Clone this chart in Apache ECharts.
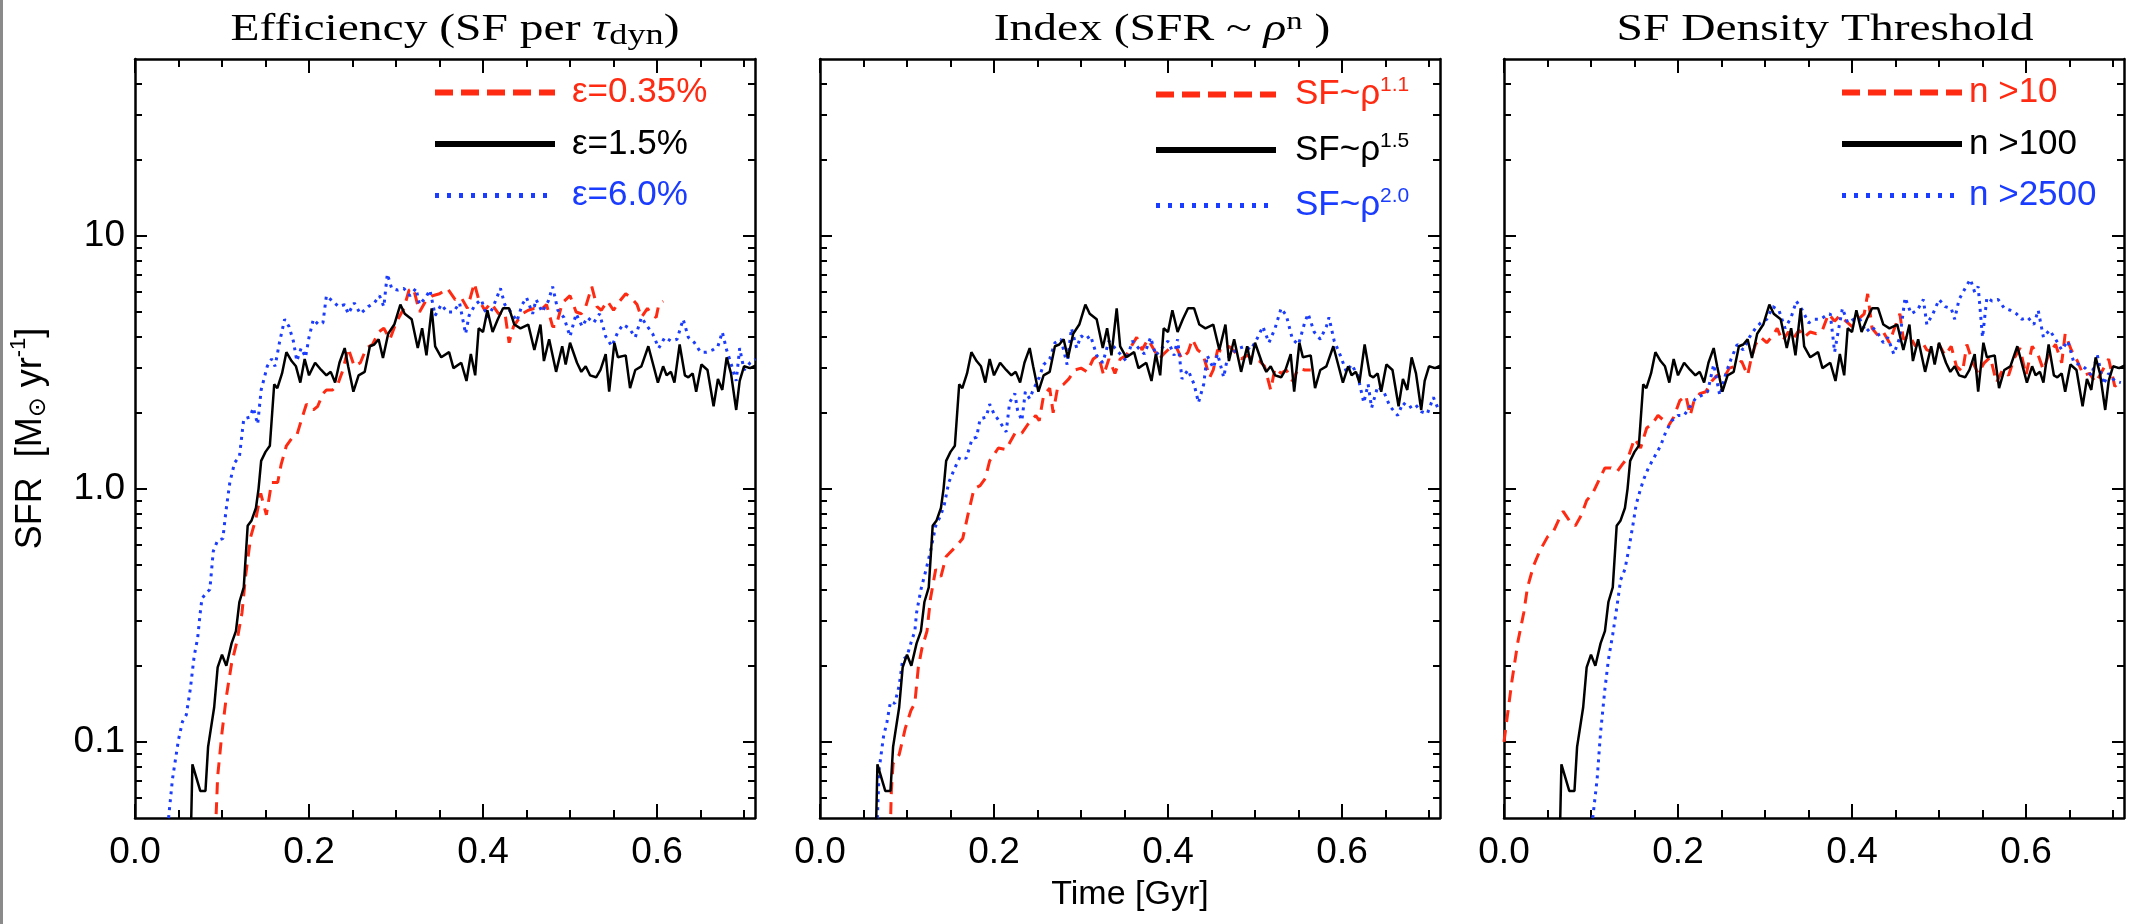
<!doctype html>
<html lang="en">
<head>
  <meta charset="UTF-8">
  <title>SFR vs time</title>
  <style>html, body {margin: 0; padding: 0; background: #fff;}</style>
</head>
<body>
<div id="main" style="width: 2129px;height: 924px"></div>
<script src="https://cdn.jsdelivr.net/npm/echarts@6/dist/echarts.min.js"></script>
<script>
    // fiducial run (eps=1.5%, n=1.5, n>100) - identical in all three panels
    const fiducial = [[0.0632,0.03],[0.066,0.0815],[0.075,0.064],[0.081,0.064],[0.084,0.0955],[0.091,0.137],[0.095,0.197],[0.1,0.221],[0.105,0.2],[0.111,0.245],[0.116,0.274],[0.12,0.357],[0.125,0.408],[0.1295,0.714],[0.134,0.75],[0.139,0.84],[0.142,1.0],[0.145,1.29],[0.15,1.4],[0.155,1.48],[0.16,2.59],[0.1636,2.5],[0.169,2.86],[0.174,3.47],[0.18,3.2],[0.185,3.05],[0.19,2.63],[0.195,3.26],[0.2,2.81],[0.207,3.15],[0.214,2.95],[0.22,2.81],[0.225,2.9],[0.23,2.63],[0.235,3.15],[0.241,3.6],[0.245,3.05],[0.251,2.42],[0.257,2.81],[0.264,2.9],[0.27,3.66],[0.275,3.72],[0.28,3.9],[0.285,3.29],[0.291,4.1],[0.298,4.46],[0.305,5.35],[0.31,4.92],[0.318,4.68],[0.325,3.6],[0.33,4.31],[0.335,3.37],[0.341,5.17],[0.345,3.66],[0.352,3.31],[0.361,3.47],[0.366,3.0],[0.375,3.15],[0.381,2.67],[0.386,3.41],[0.391,2.81],[0.395,4.31],[0.4,4.17],[0.405,5.08],[0.411,4.17],[0.417,4.68],[0.423,5.17],[0.43,5.17],[0.436,4.46],[0.443,4.31],[0.452,4.46],[0.459,3.54],[0.466,4.46],[0.47,3.2],[0.476,3.9],[0.484,2.9],[0.491,3.66],[0.495,3.1],[0.5,3.78],[0.508,3.15],[0.513,2.9],[0.518,3.05],[0.523,2.81],[0.53,2.76],[0.535,2.95],[0.541,3.41],[0.545,2.42],[0.551,3.78],[0.555,3.31],[0.564,3.37],[0.569,2.5],[0.575,2.95],[0.582,3.05],[0.59,3.66],[0.595,3.15],[0.601,2.63],[0.607,3.05],[0.611,2.81],[0.616,2.9],[0.62,2.63],[0.626,3.72],[0.632,2.81],[0.636,2.76],[0.641,2.86],[0.645,2.42],[0.651,3.1],[0.658,2.95],[0.665,2.12],[0.67,2.72],[0.675,2.46],[0.68,3.31],[0.685,2.86],[0.691,2.05],[0.695,2.67],[0.7,3.05],[0.707,3.0],[0.713,3.07]];

    const effLow = [[0.0905,0.03],[0.095,0.073],[0.1,0.109],[0.105,0.151],[0.111,0.204],[0.117,0.248],[0.123,0.324],[0.127,0.45],[0.133,0.646],[0.139,0.764],[0.1445,0.96],[0.151,0.789],[0.157,1.06],[0.164,1.06],[0.168,1.25],[0.174,1.48],[0.18,1.58],[0.186,1.63],[0.191,1.86],[0.197,2.16],[0.205,2.05],[0.21,2.12],[0.216,2.38],[0.22,2.46],[0.227,2.46],[0.233,2.59],[0.239,2.95],[0.245,3.6],[0.252,3.05],[0.259,3.15],[0.266,3.6],[0.273,3.72],[0.28,4.17],[0.286,4.31],[0.293,3.9],[0.3,4.53],[0.309,5.17],[0.315,6.1],[0.32,6.2],[0.327,5.0],[0.334,5.52],[0.342,5.8],[0.35,5.9],[0.359,6.2],[0.368,5.6],[0.375,5.7],[0.382,5.17],[0.39,6.5],[0.395,5.6],[0.402,5.08],[0.409,5.43],[0.418,4.92],[0.425,5.0],[0.43,3.78],[0.435,4.38],[0.445,4.92],[0.452,5.08],[0.459,5.17],[0.466,5.08],[0.473,5.35],[0.48,4.38],[0.484,4.38],[0.491,5.43],[0.5,5.8],[0.507,5.0],[0.513,4.92],[0.518,5.25],[0.525,6.3],[0.531,5.25],[0.536,5.08],[0.543,5.52],[0.55,5.08],[0.557,5.52],[0.564,5.9],[0.57,5.7],[0.577,5.35],[0.582,4.76],[0.589,5.17],[0.593,4.92],[0.599,4.76],[0.602,5.35],[0.607,5.52]];

    const effHigh = [[0.037,0.03],[0.0386,0.05],[0.043,0.071],[0.05,0.102],[0.0545,0.12],[0.059,0.128],[0.0636,0.162],[0.068,0.218],[0.072,0.257],[0.075,0.324],[0.077,0.369],[0.082,0.388],[0.086,0.4],[0.09,0.567],[0.095,0.626],[0.101,0.636],[0.1045,0.815],[0.109,1.06],[0.1145,1.27],[0.12,1.34],[0.125,1.89],[0.132,1.92],[0.136,2.09],[0.141,1.8],[0.145,2.46],[0.152,3.05],[0.157,3.26],[0.161,3.05],[0.166,3.78],[0.172,4.68],[0.177,4.38],[0.182,3.84],[0.186,3.2],[0.191,3.6],[0.196,3.31],[0.2,3.97],[0.205,4.68],[0.211,4.46],[0.216,4.53],[0.22,5.8],[0.227,5.52],[0.234,5.25],[0.241,5.35],[0.245,4.92],[0.252,5.43],[0.259,4.92],[0.268,5.25],[0.275,5.43],[0.281,5.8],[0.286,5.25],[0.29,7.07],[0.295,6.2],[0.302,6.1],[0.309,6.2],[0.316,5.8],[0.323,6.2],[0.327,5.35],[0.334,5.7],[0.339,6.1],[0.345,4.84],[0.352,5.35],[0.359,5.0],[0.366,5.0],[0.373,5.43],[0.38,4.1],[0.384,4.84],[0.391,5.35],[0.398,5.6],[0.405,4.76],[0.411,5.17],[0.42,6.2],[0.425,5.35],[0.432,5.0],[0.439,4.6],[0.445,5.35],[0.45,5.7],[0.457,4.92],[0.461,5.6],[0.468,5.0],[0.475,5.52],[0.48,6.3],[0.486,5.08],[0.493,4.76],[0.5,4.0],[0.507,4.92],[0.514,4.38],[0.52,4.76],[0.527,4.53],[0.534,4.92],[0.541,4.0],[0.548,3.66],[0.555,4.17],[0.561,4.46],[0.568,4.31],[0.575,3.97],[0.582,4.76],[0.589,4.38],[0.595,4.1],[0.602,3.6],[0.609,3.97],[0.616,3.84],[0.623,3.9],[0.63,4.68],[0.636,3.97],[0.643,3.78],[0.65,3.47],[0.657,3.47],[0.664,3.54],[0.67,3.66],[0.675,4.17],[0.68,3.54],[0.686,3.05],[0.691,2.67],[0.695,3.6],[0.7,2.95],[0.707,3.15],[0.713,3.26]];

    const idx11 = [[0.0795,0.03],[0.082,0.064],[0.084,0.082],[0.091,0.089],[0.098,0.113],[0.1045,0.133],[0.109,0.142],[0.113,0.197],[0.117,0.233],[0.123,0.274],[0.127,0.369],[0.133,0.481],[0.139,0.45],[0.145,0.54],[0.155,0.586],[0.164,0.636],[0.17,0.789],[0.177,1.0],[0.184,1.03],[0.19,1.1],[0.195,1.29],[0.205,1.45],[0.214,1.43],[0.218,1.52],[0.225,1.68],[0.232,1.66],[0.239,1.8],[0.248,1.95],[0.252,1.86],[0.257,2.34],[0.264,2.5],[0.268,2.0],[0.273,2.5],[0.28,2.59],[0.286,2.72],[0.293,2.95],[0.3,3.0],[0.307,2.9],[0.314,3.26],[0.32,3.37],[0.326,2.81],[0.332,3.26],[0.339,2.86],[0.345,3.26],[0.352,3.37],[0.359,3.72],[0.364,3.97],[0.37,3.54],[0.377,3.9],[0.384,3.54],[0.39,3.26],[0.395,3.41],[0.402,3.6],[0.409,3.66],[0.416,3.26],[0.423,3.47],[0.428,3.9],[0.434,3.54],[0.44,3.41],[0.448,2.76],[0.452,2.95],[0.457,3.54],[0.464,3.47],[0.47,3.66],[0.477,3.47],[0.484,3.26],[0.491,3.37],[0.498,3.26],[0.505,3.2],[0.511,3.05],[0.518,2.46],[0.523,3.0],[0.53,2.86],[0.536,2.95],[0.543,2.67],[0.55,3.0],[0.557,2.95],[0.564,2.95]];

    const idx20 = [[0.0636,0.03],[0.068,0.078],[0.073,0.105],[0.077,0.12],[0.081,0.144],[0.086,0.142],[0.091,0.167],[0.095,0.211],[0.1,0.218],[0.105,0.249],[0.109,0.274],[0.111,0.324],[0.116,0.4],[0.122,0.481],[0.127,0.567],[0.133,0.714],[0.139,0.789],[0.143,0.87],[0.148,1.06],[0.155,1.21],[0.161,1.34],[0.168,1.32],[0.175,1.58],[0.18,1.6],[0.184,1.89],[0.191,1.92],[0.195,2.16],[0.2,1.98],[0.207,1.83],[0.214,1.68],[0.218,2.2],[0.224,2.38],[0.227,2.05],[0.232,1.86],[0.236,2.42],[0.241,2.27],[0.245,2.46],[0.252,2.76],[0.257,3.1],[0.264,3.26],[0.27,3.78],[0.277,3.9],[0.284,3.1],[0.289,4.31],[0.295,3.6],[0.3,4.03],[0.305,3.9],[0.311,4.03],[0.318,3.37],[0.325,3.15],[0.332,3.84],[0.339,3.6],[0.345,3.41],[0.352,3.2],[0.359,3.84],[0.366,3.6],[0.373,3.41],[0.38,3.97],[0.386,3.37],[0.393,3.6],[0.4,3.84],[0.407,3.37],[0.411,3.9],[0.416,2.72],[0.423,2.95],[0.43,2.59],[0.435,2.19],[0.441,2.59],[0.445,3.37],[0.452,3.0],[0.457,3.41],[0.464,2.76],[0.468,3.26],[0.475,3.47],[0.482,3.6],[0.489,3.66],[0.495,3.54],[0.502,3.9],[0.509,4.38],[0.516,3.78],[0.523,4.31],[0.53,5.17],[0.536,4.84],[0.543,3.9],[0.55,3.72],[0.557,4.53],[0.561,4.92],[0.568,4.17],[0.575,3.9],[0.582,4.38],[0.585,4.76],[0.591,3.84],[0.598,3.37],[0.605,2.9],[0.611,3.1],[0.618,2.81],[0.625,2.19],[0.63,2.59],[0.634,2.09],[0.641,2.54],[0.648,2.42],[0.655,2.12],[0.664,1.95],[0.67,2.19],[0.677,2.09],[0.684,2.16],[0.691,2.02],[0.698,1.98],[0.705,2.3],[0.711,2.05]];

    const thr10 = [[0,0.1],[0.009,0.173],[0.016,0.249],[0.0227,0.324],[0.027,0.408],[0.034,0.497],[0.041,0.567],[0.05,0.646],[0.057,0.68],[0.0636,0.764],[0.068,0.815],[0.075,0.75],[0.082,0.714],[0.089,0.789],[0.095,0.9],[0.102,0.96],[0.109,1.08],[0.116,1.21],[0.123,1.21],[0.13,1.17],[0.136,1.25],[0.143,1.34],[0.15,1.58],[0.157,1.45],[0.164,1.74],[0.17,1.8],[0.177,1.95],[0.184,1.86],[0.189,1.77],[0.195,1.92],[0.202,2.23],[0.209,2.34],[0.214,1.95],[0.218,2.2],[0.225,2.38],[0.232,2.42],[0.239,2.67],[0.245,2.81],[0.252,2.72],[0.259,3.0],[0.266,3.05],[0.273,3.2],[0.28,2.81],[0.284,3.26],[0.289,3.72],[0.295,3.97],[0.302,3.78],[0.309,4.03],[0.314,4.31],[0.32,3.84],[0.327,4.17],[0.332,3.9],[0.339,4.24],[0.345,3.97],[0.352,4.17],[0.359,4.1],[0.366,4.24],[0.373,4.92],[0.38,4.6],[0.386,4.84],[0.393,4.6],[0.4,4.38],[0.407,4.68],[0.414,4.92],[0.418,5.9],[0.423,4.31],[0.43,4.03],[0.436,4.17],[0.443,3.78],[0.448,4.24],[0.455,4.92],[0.459,3.9],[0.466,4.03],[0.473,3.66],[0.48,3.84],[0.486,3.54],[0.493,3.47],[0.5,3.72],[0.507,3.37],[0.514,3.66],[0.52,3.05],[0.527,2.9],[0.532,3.72],[0.539,3.15],[0.545,2.86],[0.552,3.15],[0.559,3.31],[0.566,2.63],[0.573,2.95],[0.58,2.81],[0.586,3.26],[0.593,3.6],[0.6,2.81],[0.607,3.66],[0.614,3.37],[0.62,2.95],[0.627,3.47],[0.634,3.72],[0.641,3.15],[0.645,4.1],[0.652,3.54],[0.659,3.2],[0.666,2.81],[0.673,2.86],[0.68,2.63],[0.686,2.86],[0.695,3.26],[0.702,2.54],[0.709,2.67]];

    const thr2500 = [[0.1015,0.03],[0.102,0.05],[0.107,0.071],[0.111,0.109],[0.116,0.162],[0.12,0.211],[0.125,0.266],[0.13,0.346],[0.134,0.436],[0.139,0.481],[0.143,0.567],[0.148,0.714],[0.152,0.87],[0.157,1.0],[0.161,1.1],[0.166,1.21],[0.173,1.34],[0.18,1.48],[0.186,1.68],[0.193,1.86],[0.2,1.95],[0.207,1.95],[0.214,2.12],[0.22,2.27],[0.227,2.34],[0.234,2.42],[0.241,3.1],[0.248,2.34],[0.255,2.86],[0.261,3.26],[0.268,3.72],[0.275,3.54],[0.282,3.97],[0.289,4.31],[0.295,4.53],[0.302,4.68],[0.309,5.25],[0.316,5.08],[0.323,4.31],[0.33,4.76],[0.336,5.52],[0.343,5.08],[0.35,4.53],[0.357,4.68],[0.364,4.68],[0.37,4.84],[0.375,4.92],[0.38,3.47],[0.384,4.17],[0.389,5.17],[0.395,4.53],[0.402,4.68],[0.409,4.68],[0.416,4.17],[0.423,4.38],[0.43,4.1],[0.436,3.78],[0.441,3.97],[0.448,3.41],[0.455,3.97],[0.461,5.7],[0.468,4.92],[0.475,5.08],[0.482,5.6],[0.486,4.46],[0.493,4.92],[0.5,5.6],[0.507,5.25],[0.514,5.17],[0.518,4.68],[0.523,5.6],[0.53,6.2],[0.536,6.73],[0.541,5.99],[0.545,6.3],[0.55,3.97],[0.555,5.7],[0.561,5.52],[0.568,5.6],[0.575,5.17],[0.582,5.08],[0.589,4.92],[0.595,4.68],[0.602,4.76],[0.609,4.46],[0.614,5.08],[0.62,3.97],[0.627,4.24],[0.634,3.9],[0.641,3.54],[0.648,3.84],[0.655,3.15],[0.661,3.1],[0.668,3.0],[0.675,2.81],[0.682,3.37],[0.689,2.59],[0.695,2.86],[0.702,2.67],[0.709,2.63]];

    // ticks
    const xMajor = [0, 0.2, 0.4, 0.6];
    const xMinor = [0.05, 0.1, 0.15, 0.25, 0.3, 0.35, 0.45, 0.5, 0.55, 0.65, 0.7];
    const yMajor = [0.1, 1, 10];
    const yMajorLabels = ['0.1', '1.0', '10'];
    const yMinor = [0.06, 0.07, 0.08, 0.09, 0.2, 0.3, 0.4, 0.5, 0.6, 0.7, 0.8, 0.9,
                    2, 3, 4, 5, 6, 7, 8, 9, 20, 30, 40];

    const legendNames = [
        ['ε=0.35%', 'ε=1.5%', 'ε=6.0%'],
        ['SF~ρ1.1', 'SF~ρ1.5', 'SF~ρ2.0'],
        ['n >10', 'n >100', 'n >2500']
    ];

    const SANS = "'Liberation Sans', 'DejaVu Sans', Arial, sans-serif";
    const SERIF = "'Liberation Serif', 'DejaVu Serif', 'Times New Roman', serif";
    const RED = '#ff2a12';
    const BLUE = '#1a3cff';
    const XMAX = 0.7126;
    const YMIN = 0.05, YMAX = 50;
    const LMIN = Math.log10(YMIN), LMAX = Math.log10(YMAX);

    const panels = [
        {left: 135, titleX: 455, legendX: 432, textPad: 12, red: effLow, blue: effHigh,
         title: '{t|Efficiency (SF per }{i|τ}{sub|dyn}{t|)}'},
        {left: 820, titleX: 1162, legendX: 1153, textPad: 14, red: idx11, blue: idx20,
         title: '{t|Index (SFR ~ }{i|ρ}{sup|n}{t| )}'},
        {left: 1504, titleX: 1825, legendX: 1839, textPad: 2, red: thr10, blue: thr2500,
         title: '{t|SF Density Threshold}'}
    ];

    const titleRich = {
        t: {fontSize: 38, fontFamily: SERIF, fill: '#000', lineHeight: 44},
        i: {fontSize: 38, fontFamily: SERIF, fontStyle: 'italic', fill: '#000', lineHeight: 44},
        sub: {fontSize: 29, fontFamily: SERIF, fill: '#000', lineHeight: 28, padding: [12, 0, 0, 0]},
        sup: {fontSize: 26, fontFamily: SERIF, fill: '#000', lineHeight: 22, padding: [0, 0, 16, 0]}
    };

    function legendText(name) {
        const m = name.match(/^SF~ρ(.*)$/);
        if (m) return '{b|SF~ρ}{s|' + m[1] + '}';
        return '{b|' + name + '}';
    }

    function xAxis(grid, pos, ticks, len, withLine, withLabels, extra) {
        return Object.assign({
            type: 'value', gridIndex: grid, position: pos, min: 0, max: XMAX,
            splitLine: {show: false},
            axisLine: {show: withLine, onZero: false, lineStyle: {color: '#000', width: 2.5}},
            axisTick: {show: true, inside: true, length: len, customValues: ticks,
                lineStyle: {color: '#000', width: 2}},
            axisLabel: withLabels ? {
                show: true, customValues: xMajor, formatter: v => v.toFixed(1),
                margin: 16, fontSize: 37, color: '#000', fontFamily: SANS
            } : {show: false}
        }, extra || {});
    }

    function yAxis(grid, pos, ticks, len, withLine, withLabels, extra) {
        return Object.assign({
            type: 'value', gridIndex: grid, position: pos, min: LMIN, max: LMAX,
            splitLine: {show: false},
            axisLine: {show: withLine, onZero: false, lineStyle: {color: '#000', width: 2.5}},
            axisTick: {show: true, inside: true, length: len,
                customValues: ticks.map(v => Math.log10(v)),
                lineStyle: {color: '#000', width: 2}},
            axisLabel: withLabels ? {
                show: true, customValues: yMajor.map(v => Math.log10(v)),
                formatter: v => yMajorLabels[Math.round(v) + 1],
                margin: 10, fontSize: 37, color: '#000', fontFamily: SANS
            } : {show: false}
        }, extra || {});
    }

    const grids = [], xAxes = [], yAxes = [], series = [], legends = [];
    const graphics = [{
        type: 'rect', left: 0, top: 0, silent: true,
        shape: {width: 3, height: 924}, style: {fill: '#8a8a8a'}
    }];

    panels.forEach((p, i) => {
        grids.push({left: p.left, top: 59, width: 620, height: 759});

        xAxes.push(xAxis(i, 'bottom', xMajor, 14, true, true, i === 1 ? {
            name: 'Time [Gyr]', nameLocation: 'middle', nameGap: 60,
            nameTextStyle: {fontSize: 34, color: '#000', fontFamily: SANS}
        } : null));
        xAxes.push(xAxis(i, 'bottom', xMinor, 8, false, false));
        xAxes.push(xAxis(i, 'top', xMajor, 14, true, false));
        xAxes.push(xAxis(i, 'top', xMinor, 8, false, false));

        // data axis: log scale, drawn invisible; tick axes are in log10 space
        yAxes.push({type: 'log', logBase: 10, gridIndex: i, position: 'left', min: YMIN, max: YMAX, show: false});
        yAxes.push(yAxis(i, 'left', yMajor, 12, true, i === 0, i === 0 ? {
            name: '{a|SFR  [M}{sub|⊙}{a| yr}{sup|-1}{a|]}',
            nameLocation: 'middle', nameRotate: 90, nameGap: 84,
            nameTextStyle: {
                color: '#000',
                rich: {
                    a: {fontSize: 36, fontFamily: SANS, color: '#000', lineHeight: 40},
                    sub: {fontSize: 24, fontFamily: "'DejaVu Sans', sans-serif", color: '#000', lineHeight: 24, padding: [16, 0, 0, 0]},
                    sup: {fontSize: 22, fontFamily: SANS, color: '#000', lineHeight: 16, padding: [0, 0, 24, 0]}
                }
            }
        } : null));
        yAxes.push(yAxis(i, 'left', yMinor, 7, false, false));
        yAxes.push(yAxis(i, 'right', yMajor, 12, true, false));
        yAxes.push(yAxis(i, 'right', yMinor, 7, false, false));

        const names = legendNames[i];
        const common = {type: 'line', xAxisIndex: 4 * i, yAxisIndex: 5 * i, symbol: 'none',
            showSymbol: false, silent: true, clip: true, animation: false};
        series.push(Object.assign({}, common, {name: names[0], data: p.red, color: RED,
            lineStyle: {color: RED, width: 3, type: [12, 8]}}));
        series.push(Object.assign({}, common, {name: names[2], data: p.blue, color: BLUE,
            lineStyle: {color: BLUE, width: 3, type: [3, 5]}}));
        series.push(Object.assign({}, common, {name: names[1], data: fiducial, color: '#000',
            lineStyle: {color: '#000', width: 2.5}}));

        // panel titles: the original lettering is stretched sideways, so scale the text
        graphics.push({
            type: 'text', x: p.titleX, y: 30, scaleX: 1.25, silent: true,
            style: {text: p.title, align: 'center', verticalAlign: 'middle', rich: titleRich}
        });

        legends.push({
            orient: 'vertical', left: p.legendX, top: 75, padding: 0,
            itemWidth: 120, itemHeight: 34, itemGap: 16.5, selectedMode: false,
            itemStyle: {color: 'rgba(0,0,0,0)', borderColor: 'rgba(0,0,0,0)', borderWidth: 0, opacity: 0},
            formatter: legendText,
            textStyle: {
                fontFamily: SANS, fontSize: 35,
                rich: {
                    b: {fontSize: 35, fontFamily: SANS, lineHeight: 34, padding: [0, 0, 0, p.textPad]},
                    s: {fontSize: 21, fontFamily: SANS, lineHeight: 14, padding: [0, 0, 18, 0]}
                }
            },
            data: [
                {name: names[0], textStyle: {color: RED}, lineStyle: {color: RED, width: 6, type: [18, 8]}},
                {name: names[1], textStyle: {color: '#000'}, lineStyle: {color: '#000', width: 6, type: 'solid'}},
                {name: names[2], textStyle: {color: BLUE}, lineStyle: {color: BLUE, width: 5, type: [4, 8]}}
            ]
        });
    });

    let myCharts = echarts.init(document.querySelector('#main'), null, {renderer: 'canvas'})
    myCharts.setOption({
        animation: false,
        backgroundColor: '#fff',
        legend: legends,
        grid: grids,
        xAxis: xAxes,
        yAxis: yAxes,
        series: series,
        graphic: graphics
    })
</script>
</body>
</html>
